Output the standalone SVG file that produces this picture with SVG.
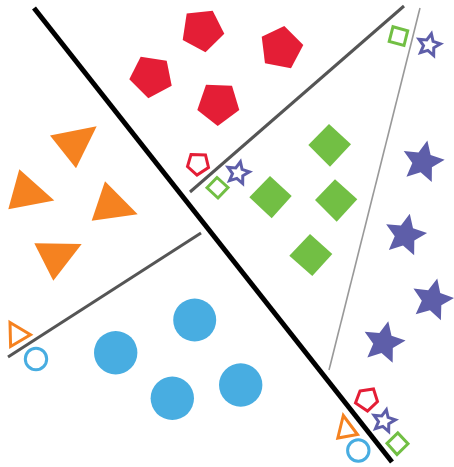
<svg xmlns="http://www.w3.org/2000/svg" width="454" height="467" viewBox="0 0 454 467">
<defs>
<style>
.red{fill:#E41E36}
.redo{fill:none;stroke:#E41E36;stroke-width:3}
.grn{fill:#72BF44}
.grno{fill:none;stroke:#72BF44;stroke-width:3}
.blu{fill:#5E5EA9}
.bluo{fill:none;stroke:#5E5EA9;stroke-width:3}
.org{fill:#F58220}
.orgo{fill:none;stroke:#F58220;stroke-width:3}
.cyn{fill:#48ADE1}
.cyno{fill:none;stroke:#48ADE1;stroke-width:3}
</style>
<path id="star" d="M0,-22 L6.17,-8.50 L20.92,-6.80 L10,3.25 L12.93,17.80 L0,10.5 L-12.93,17.80 L-10,3.25 L-20.92,-6.80 L-6.17,-8.50 Z"/>
<path id="staro" d="M0,-11.5 L3.23,-4.45 L10.94,-3.55 L5.23,1.70 L6.76,9.30 L0,5.5 L-6.76,9.30 L-5.23,1.70 L-10.94,-3.55 L-3.23,-4.45 Z"/>
</defs>
<rect width="454" height="467" fill="#ffffff"/>
<g id="lines">
<line x1="34" y1="8" x2="392" y2="462" stroke="#000" stroke-width="5"/>
<line x1="190" y1="192" x2="404" y2="6" stroke="#555" stroke-width="3"/>
<line x1="8" y1="357" x2="201" y2="233" stroke="#555" stroke-width="3"/>
<line x1="329" y1="370" x2="420" y2="8" stroke="#999" stroke-width="1.6"/>
</g>
<g id="pentagons">
<polygon class="red" points="186.7,13.5 212.7,10.7 224.3,33.8 205.5,52.3 182.7,40"/>
<polygon class="red" points="261.7,36.7 284.3,26 303.3,45 291,68.3 265,63.3"/>
<polygon class="red" points="140.7,56.7 166.7,60.7 171.7,85.7 148.3,98.3 129.3,79.3"/>
<polygon class="red" points="206,84.7 232,85.7 239.3,110 217.7,126 197.3,110"/>
<polygon class="redo" points="191,154.5 205.5,155 208.5,167.5 197,175 187.5,166.5"/>
<polygon class="redo" points="360,391 373.5,389 377.5,401.5 367.5,411 355.5,403"/>
</g>
<g id="diamonds">
<polygon class="grn" points="308.3,145 329,124 351,144.3 330,166.7"/>
<polygon class="grn" points="249.3,197.3 270,176 291.7,196 271.7,218.3"/>
<polygon class="grn" points="315,200 335,179.3 357.3,199.3 336.7,221.7"/>
<polygon class="grn" points="289.3,255.7 310,234 332.3,254 312.3,276"/>
<polygon class="grno" points="207,187.8 217,177.5 228,187.5 218,198"/>
<polygon class="grno" points="393,26.7 407.7,30.7 404,45.5 389.2,41.5"/>
<polygon class="grno" points="387,443.3 397.8,433 408,443.8 397,454.5"/>
</g>
<g id="stars">
<use href="#star" class="blu" transform="translate(422.8,162) rotate(12)"/>
<use href="#star" class="blu" transform="translate(405.2,235.2) rotate(12)"/>
<use href="#star" class="blu" transform="translate(432.3,299.9) rotate(13)"/>
<use href="#star" class="blu" transform="translate(383.7,342.7) rotate(12)"/>
<use href="#staro" class="bluo" transform="translate(429,45) rotate(12)"/>
<use href="#staro" class="bluo" transform="translate(238,173) rotate(12)"/>
<use href="#staro" class="bluo" transform="translate(384,421) rotate(12)"/>
</g>
<g id="triangles">
<polygon class="org" points="50,135.5 96.7,126.3 76,168.3"/>
<polygon class="org" points="19.3,169.3 54.3,200.5 8.3,209.3"/>
<polygon class="org" points="105,181.2 137.7,214.2 91.7,220.7"/>
<polygon class="org" points="34.3,243.3 81.7,244 53.3,280.7"/>
<polygon class="orgo" points="10,322.5 30.5,334.7 10.6,346.5"/>
<polygon class="orgo" points="343.3,415.5 337.8,438 357.5,434.5"/>
</g>
<g id="circles">
<circle class="cyn" cx="194.7" cy="320" r="21.5"/>
<circle class="cyn" cx="115.7" cy="352.7" r="21.7"/>
<circle class="cyn" cx="172.3" cy="398.3" r="21.7"/>
<circle class="cyn" cx="240.7" cy="385" r="21.7"/>
<circle class="cyno" cx="36" cy="359" r="10.7"/>
<circle class="cyno" cx="358.3" cy="450.5" r="10.7"/>
</g>
</svg>
